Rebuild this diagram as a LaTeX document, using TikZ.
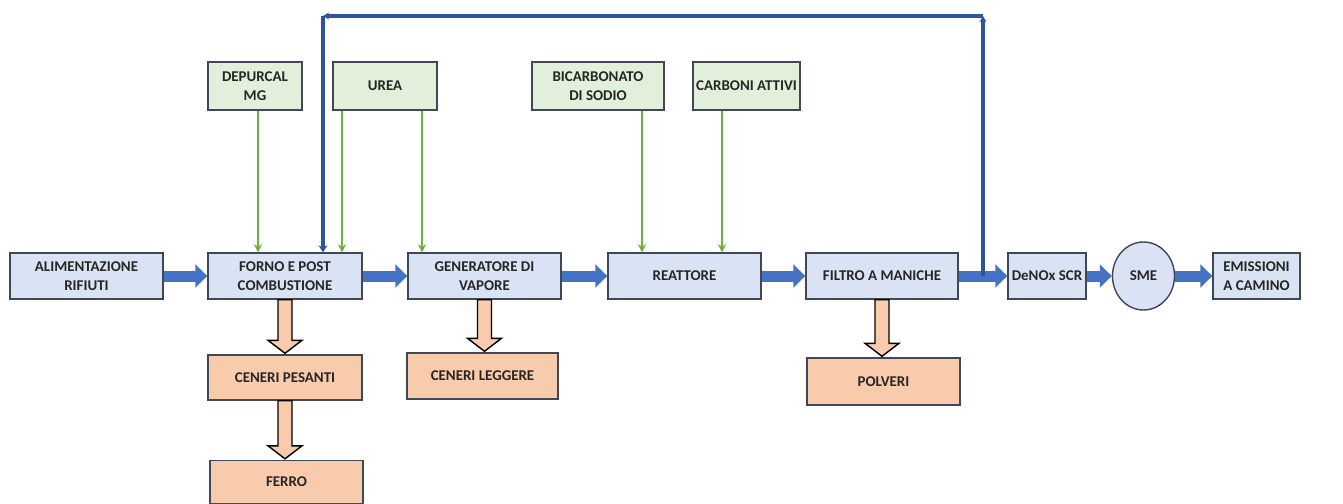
\documentclass[tikz,border=0pt]{standalone}
\usepackage{fontspec}
\setmainfont{Carlito}
\usetikzlibrary{arrows.meta,shapes.geometric,calc}

\definecolor{unitfill}{RGB}{218,227,243}
\definecolor{reagentfill}{RGB}{226,239,218}
\definecolor{residuefill}{RGB}{248,203,173}
\definecolor{edgegray}{RGB}{64,72,88}
\definecolor{textgray}{RGB}{38,38,38}
\definecolor{flowblue}{RGB}{68,114,196}
\definecolor{loopblue}{RGB}{47,85,151}
\definecolor{feedgreen}{RGB}{112,173,71}

\def \px {0.02cm}

\tikzset{
  unit/.style={draw=edgegray, line width=0.8pt, fill=unitfill, align=center,
    inner sep=0pt, minimum height=46*\px, text=textgray,
    font=\fontsize{8.5}{11}\selectfont\bfseries},
  reagent/.style={unit, fill=reagentfill, minimum height=48*\px},
  residue/.style={unit, fill=residuefill},
  flow/.style={draw=flowblue, line width=11*\px,
    -{Triangle[length=12*\px, width=23*\px]}},
  feed/.style={draw=feedgreen, line width=1pt,
    -{Stealth[length=8*\px, width=8*\px]}},
  loop/.style={draw=loopblue, line width=2pt}
}

% hollow block arrow going down from #1 to #2
\newcommand{\outarrow}[2]{%
  \path[draw=black, line width=0.8pt, fill=residuefill]
    let \p1=(#1.south), \p2=(#2.north) in
    (\x1-7*\px,\y1) -- (\x1-7*\px,\y2+14*\px) -- (\x1-17*\px,\y2+14*\px)
    -- (\x1,\y2+1*\px) -- (\x1+17*\px,\y2+14*\px) -- (\x1+7*\px,\y2+14*\px)
    -- (\x1+7*\px,\y1) -- cycle;}

\begin{document}
\begin{tikzpicture}[x=0.02cm, y=-0.02cm]
\useasboundingbox (0,0) rectangle (1343,504);

% main line
\node[unit, minimum width=153*\px] (alim) at (86.5,276) {ALIMENTAZIONE\\RIFIUTI};
\node[unit, minimum width=154*\px] (forno) at (285,276) {FORNO E POST\\COMBUSTIONE};
\node[unit, minimum width=153*\px] (gen) at (484.5,276) {GENERATORE DI\\VAPORE};
\node[unit, minimum width=153*\px] (reatt) at (684.5,276) {REATTORE};
\node[unit, minimum width=152*\px] (filtro) at (882,276) {FILTRO A MANICHE};
\node[unit, minimum width=78*\px] (denox) at (1047,276) {DeNOx SCR};
\node[unit, ellipse, minimum width=62*\px, minimum height=68*\px] (sme) at (1143.5,276) {SME};
\node[unit, minimum width=87*\px] (emiss) at (1256.5,276) {EMISSIONI\\A CAMINO};

% reagents
\node[reagent, minimum width=94*\px] (depurcal) at (255,86) {DEPURCAL\\MG};
\node[reagent, minimum width=104*\px] (urea) at (385,86) {UREA};
\node[reagent, minimum width=132*\px] (bicarb) at (598,86) {BICARBONATO\\DI SODIO};
\node[reagent, minimum width=107*\px] (carboni) at (746.5,86) {CARBONI ATTIVI};

% residues
\node[residue, minimum width=154*\px, minimum height=45*\px] (cpes) at (285,377.5) {CENERI PESANTI};
\node[residue, minimum width=153*\px, minimum height=43*\px] (ferro) at (286.5,482) {FERRO};
\node[residue, minimum width=151*\px] (cleg) at (482.5,376) {CENERI LEGGERE};
\node[residue, minimum width=153*\px, minimum height=47*\px] (polveri) at (883.5,381.5) {POLVERI};

\draw[flow] (alim) -- (forno);
\draw[flow] (forno) -- (gen);
\draw[flow] (gen) -- (reatt);
\draw[flow] (reatt) -- (filtro);
\draw[flow] (filtro) -- (denox);
\draw[flow] (denox) -- (sme);
\draw[flow] (sme) -- (emiss);

% recirculation
\coordinate (split) at (983,276);
\coordinate (upright) at (983,16);
\coordinate (upleft) at (323,16);
\draw[loop, -{Stealth[length=6*\px, width=7*\px]}] (split) -- (upright);
\draw[loop, -{Stealth[length=6*\px, width=7*\px]}] (upright) -- (upleft);
\draw[loop, -{Stealth[length=7*\px, width=9*\px]}] (upleft) -- (upleft |- forno.north);

% reagent feeds
\coordinate (d1) at (258,0);
\coordinate (u1) at (342,0);
\coordinate (u2) at (422,0);
\coordinate (b1) at (642,0);
\coordinate (c1) at (722,0);
\draw[feed] (depurcal.south -| d1) -- (forno.north -| d1);
\draw[feed] (urea.south -| u1) -- (forno.north -| u1);
\draw[feed] (urea.south -| u2) -- (gen.north -| u2);
\draw[feed] (bicarb.south -| b1) -- (reatt.north -| b1);
\draw[feed] (carboni.south -| c1) -- (reatt.north -| c1);

% residues out
\outarrow{forno}{cpes}
\outarrow{cpes}{ferro}
\outarrow{gen}{cleg}
\outarrow{filtro}{polveri}
\end{tikzpicture}
\end{document}
